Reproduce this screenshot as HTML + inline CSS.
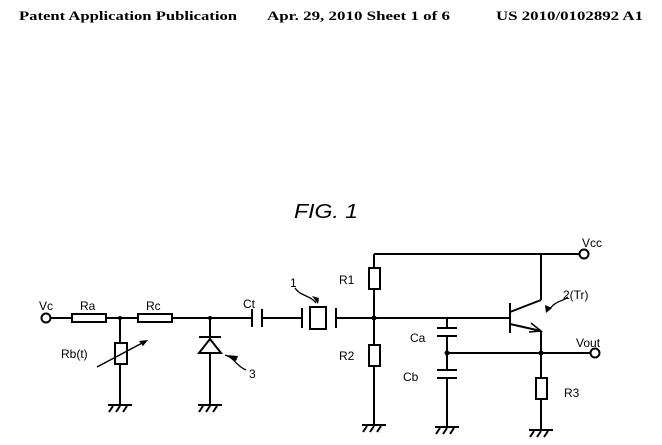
<!DOCTYPE html>
<html><head><style>body{margin:0;background:#fff}svg{display:block}</style></head><body>
<svg width="662" height="445" viewBox="0 0 662 445" xmlns="http://www.w3.org/2000/svg">
<rect width="662" height="445" fill="#fff"/>
<g font-family="Liberation Serif" font-weight="bold" font-size="12.5" fill="#000">
<text x="19" y="20" textLength="218" lengthAdjust="spacingAndGlyphs">Patent Application Publication</text>
<text x="267" y="20" textLength="183" lengthAdjust="spacingAndGlyphs">Apr. 29, 2010  Sheet 1 of 6</text>
<text x="496" y="20" textLength="147" lengthAdjust="spacingAndGlyphs">US 2010/0102892 A1</text>
</g>
<text x="294" y="218" font-family="Liberation Sans" font-style="italic" font-size="20" textLength="64" lengthAdjust="spacingAndGlyphs">FIG. 1</text>
<g stroke="#000" stroke-width="2" fill="none">
<circle cx="46" cy="318" r="4.5" fill="#fff"/>
<line x1="51" y1="318" x2="72" y2="318"/>
<rect x="72" y="314" width="34" height="8" fill="#fff"/>
<line x1="106" y1="318" x2="138" y2="318"/>
<rect x="138" y="314" width="34" height="8" fill="#fff"/>
<line x1="172" y1="318" x2="252" y2="318"/>
<line x1="252" y1="309" x2="252" y2="327"/>
<line x1="262" y1="309" x2="262" y2="327"/>
<line x1="262" y1="318" x2="302" y2="318"/>
<line x1="302" y1="308" x2="302" y2="328"/>
<rect x="310" y="307" width="16" height="22" fill="#fff"/>
<line x1="336" y1="308" x2="336" y2="328"/>
<line x1="336" y1="318" x2="510" y2="318"/>
<line x1="120" y1="318" x2="120" y2="405"/>
<rect x="115" y="343" width="12" height="21" fill="#fff"/>
<line x1="97" y1="367" x2="146" y2="341" stroke-width="1.5"/>
<line x1="210" y1="318" x2="210" y2="405"/>
<line x1="199" y1="337" x2="221" y2="337"/>
<polygon points="199,353 221,353 210,339" fill="#fff"/>
<path d="M225,355 C235,358 236,366 246,370" stroke-width="1.3"/>
<path d="M295,288 C300,296 310,295 316,303" stroke-width="1.3"/>
<line x1="374" y1="254" x2="579" y2="254"/>
<line x1="374" y1="254" x2="374" y2="425"/>
<rect x="369" y="268" width="11" height="21" fill="#fff"/>
<rect x="369" y="345" width="11" height="21" fill="#fff"/>
<circle cx="584" cy="254" r="4.5" fill="#fff"/>
<line x1="447" y1="318" x2="447" y2="328"/>
<line x1="437" y1="328" x2="457" y2="328"/>
<line x1="437" y1="336" x2="457" y2="336"/>
<line x1="447" y1="336" x2="447" y2="370"/>
<line x1="437" y1="370" x2="457" y2="370"/>
<line x1="437" y1="378" x2="457" y2="378"/>
<line x1="447" y1="378" x2="447" y2="427"/>
<line x1="447" y1="353" x2="590" y2="353"/>
<circle cx="595" cy="353" r="4.5" fill="#fff"/>
<line x1="510" y1="303" x2="510" y2="333"/>
<line x1="510" y1="312" x2="541" y2="300"/>
<line x1="541" y1="300" x2="541" y2="254"/>
<line x1="510" y1="324" x2="541" y2="331"/>
<line x1="541" y1="331" x2="541" y2="430"/>
<path d="M531,323 L541,331 L529,332" stroke-width="1.5"/>
<rect x="536" y="378" width="11" height="21" fill="#fff"/>
<path d="M549,310 C556,300 562,302 568,297" stroke-width="1.3"/>
</g>
<g fill="#000">
<circle cx="120" cy="318" r="2"/><circle cx="210" cy="318" r="2"/>
<circle cx="374" cy="318" r="2.5"/><circle cx="447" cy="353" r="2.5"/><circle cx="541" cy="353" r="2.5"/>
<polygon points="236,361 226,355 238,356"/>
<polygon points="318,304 312,296 319,298"/>
<polygon points="148,340 139,341 143,346"/>
<polygon points="546,313 545,305 552,308"/>
</g>
<g stroke="#000" stroke-width="2">
<line x1="108" y1="405" x2="132" y2="405"/><line x1="113" y1="406" x2="109" y2="412"/><line x1="120" y1="406" x2="116" y2="412"/><line x1="127" y1="406" x2="123" y2="412"/>
<line x1="198" y1="405" x2="222" y2="405"/><line x1="203" y1="406" x2="199" y2="412"/><line x1="210" y1="406" x2="206" y2="412"/><line x1="217" y1="406" x2="213" y2="412"/>
<line x1="362" y1="425" x2="386" y2="425"/><line x1="367" y1="426" x2="363" y2="432"/><line x1="374" y1="426" x2="370" y2="432"/><line x1="381" y1="426" x2="377" y2="432"/>
<line x1="435" y1="427" x2="459" y2="427"/><line x1="440" y1="428" x2="436" y2="434"/><line x1="447" y1="428" x2="443" y2="434"/><line x1="454" y1="428" x2="450" y2="434"/>
<line x1="529" y1="430" x2="553" y2="430"/><line x1="534" y1="431" x2="530" y2="437"/><line x1="541" y1="431" x2="537" y2="437"/><line x1="548" y1="431" x2="544" y2="437"/>
</g>
<g font-family="Liberation Sans" font-size="12" fill="#000">
<text x="39" y="310">Vc</text>
<text x="80" y="310">Ra</text>
<text x="146" y="310">Rc</text>
<text x="243" y="308">Ct</text>
<text x="290" y="287">1</text>
<text x="61" y="358">Rb(t)</text>
<text x="249" y="378">3</text>
<text x="339" y="284">R1</text>
<text x="339" y="360">R2</text>
<text x="410" y="342">Ca</text>
<text x="403" y="381">Cb</text>
<text x="563" y="299">2(Tr)</text>
<text x="582" y="247">Vcc</text>
<text x="576" y="347">Vout</text>
<text x="564" y="397">R3</text>
</g>
</svg>
</body></html>
